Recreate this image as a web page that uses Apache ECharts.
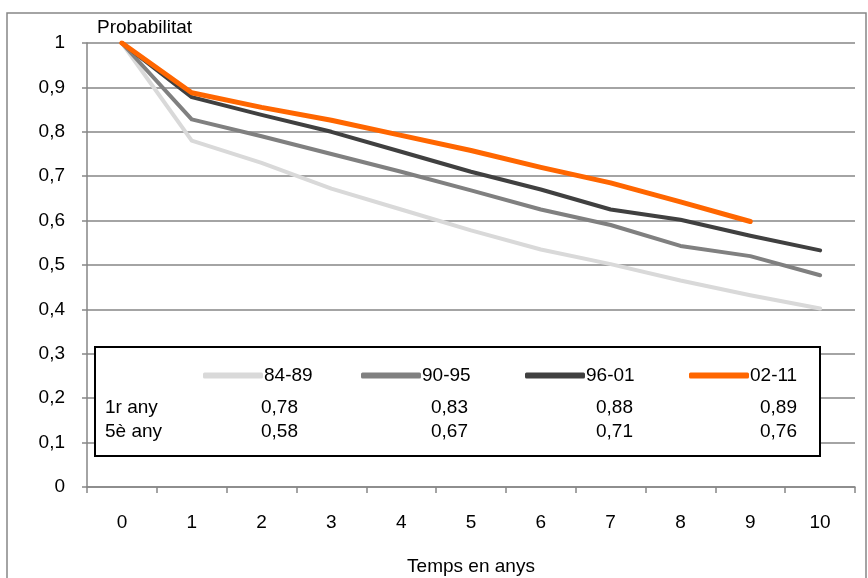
<!DOCTYPE html>
<html>
<head>
<meta charset="utf-8">
<script src="https://cdn.jsdelivr.net/npm/echarts@6/dist/echarts.min.js"></script>
<style>
  html, body { margin: 0; padding: 0; background: #fff; }
  #chart { width: 868px; height: 578px; }
</style>
</head>
<body>
<div id="chart"></div>
<script>
var years = ['0', '1', '2', '3', '4', '5', '6', '7', '8', '9', '10'];
var periods = ['84-89', '90-95', '96-01', '02-11'];
var colors = ['#d9d9d9', '#808080', '#404040', '#ff6600'];

var s8489 = [1, 0.78, 0.73, 0.672, 0.625, 0.578, 0.535, 0.502, 0.465, 0.432, 0.402];
var s9095 = [1, 0.828, 0.79, 0.75, 0.71, 0.668, 0.625, 0.59, 0.543, 0.52, 0.477];
var s9601 = [1, 0.878, 0.838, 0.80, 0.755, 0.71, 0.67, 0.625, 0.602, 0.566, 0.533];
var s0211 = [1, 0.888, 0.855, 0.826, 0.792, 0.758, 0.72, 0.685, 0.642, 0.598];

var firstYear = ['0,78', '0,83', '0,88', '0,89'];
var fifthYear = ['0,58', '0,67', '0,71', '0,76'];
var rowLabels = ['1r any', '5è any'];

var font = 'Liberation Sans, Arial, sans-serif';
var fs = 19;
var axisGray = '#868686';

var seriesData = [s8489, s9095, s9601, s0211];
var series = seriesData.map(function (d, i) {
    return {
        name: periods[i],
        type: 'line',
        data: d,
        symbol: 'none',
        z: 3 + i,
        lineStyle: { color: colors[i], width: i === 3 ? 5 : 4, cap: 'round', join: 'round' },
        itemStyle: { color: colors[i] }
    };
});

// legend items inside the box, one legend per item
var legendLeft = [198, 356, 520, 684];
var legends = periods.map(function (p, i) {
    return {
        data: [{ name: p, icon: 'roundRect' }],
        left: legendLeft[i],
        top: 361,
        itemWidth: 60,
        itemHeight: 6,
        itemGap: 0,
        z: 20,
        selectedMode: false,
        textStyle: { fontFamily: font, fontSize: fs, color: '#000', padding: [0, 0, 0, -4] }
    };
});

// table text inside the box
var valueRight = [298, 468, 633, 797];
var graphics = [
    { type: 'rect', z: 1, shape: { x: 7, y: 13, width: 859, height: 570 },
      style: { fill: 'none', stroke: axisGray, lineWidth: 1.5 } },
    { type: 'rect', z: 10, shape: { x: 95, y: 347, width: 725, height: 109 },
      style: { fill: '#fff', stroke: '#000', lineWidth: 2 } }
];
rowLabels.forEach(function (r, j) {
    graphics.push({ type: 'text', z: 20, x: 105, y: 398 + j * 24,
        style: { text: r, font: fs + 'px ' + font, fill: '#000' } });
});
[firstYear, fifthYear].forEach(function (row, j) {
    row.forEach(function (v, i) {
        graphics.push({ type: 'text', z: 20, x: valueRight[i], y: 398 + j * 24,
            style: { text: v, font: fs + 'px ' + font, fill: '#000', textAlign: 'right' } });
    });
});

var chart = echarts.init(document.getElementById('chart'));
chart.setOption({
    animation: false,
    backgroundColor: '#fff',
    color: colors,
    grid: { left: 87, right: 13, top: 43, bottom: 91, outerBoundsMode: 'none' },
    legend: legends,
    graphic: graphics,
    xAxis: {
        type: 'category',
        data: years,
        boundaryGap: true,
        name: 'Temps en anys',
        nameLocation: 'middle',
        nameGap: 70,
        nameTextStyle: { fontFamily: font, fontSize: fs, color: '#000' },
        axisLine: { lineStyle: { color: axisGray, width: 1.5 } },
        axisTick: { show: true, interval: 0, length: 6, lineStyle: { color: axisGray, width: 1.5 } },
        axisLabel: { margin: 26, fontFamily: font, fontSize: fs, color: '#000', interval: 0 },
        splitLine: { show: false }
    },
    yAxis: {
        type: 'value',
        min: 0,
        max: 1,
        interval: 0.1,
        name: 'Probabilitat',
        nameGap: 6,
        nameTextStyle: { fontFamily: font, fontSize: fs, color: '#000', align: 'left', padding: [0, 0, 0, 10] },
        axisLine: { show: true, lineStyle: { color: axisGray, width: 1.5 } },
        axisTick: { show: true, length: 5, lineStyle: { color: axisGray, width: 1.5 } },
        axisLabel: {
            margin: 22, fontFamily: font, fontSize: fs, color: '#000',
            formatter: function (v) { return String(+v.toFixed(1)).replace('.', ','); }
        },
        splitLine: { lineStyle: { color: axisGray, width: 1.5 } }
    },
    series: series
});
</script>
</body>
</html>
